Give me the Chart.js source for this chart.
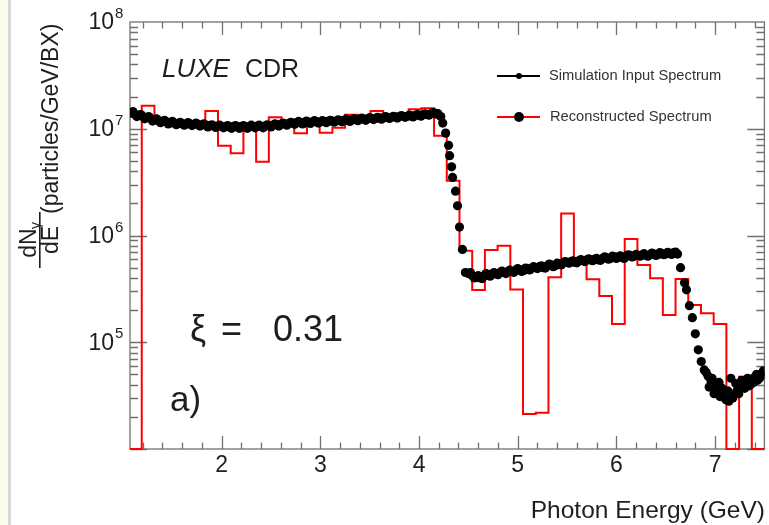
<!DOCTYPE html>
<html>
<head>
<meta charset="utf-8">
<script src="https://cdn.jsdelivr.net/npm/chart.js@4.4.0/dist/chart.umd.min.js"></script>
<style>
  html, body { margin: 0; padding: 0; background: #fff; }
  #wrap { position: relative; width: 769px; height: 525px; }
</style>
</head>
<body>
<div id="wrap"><canvas id="spectrum" width="769" height="525"></canvas></div>
<script>
// reconstructed spectrum: histogram bins (GeV), value per bin (0 = empty bin)
const binStart = 1.19;
const binWidth = 0.1288;
const recoValues = [
  1.64e7, 1.26e7, 1.16e7, 1.11e7, 1.08e7, 1.47e7, 6.93e6, 5.89e6, 1.06e7, 4.91e6,
  1.28e7, 1.11e7, 9.06e6, 1.11e7, 9.18e6, 1.02e7, 1.35e7, 1.18e7, 1.47e7, 1.23e7,
  1.29e7, 1.52e7, 1.56e7, 8.61e6, 3.26e6, 7.21e5, 3.08e5, 7.31e5, 8.02e5, 3.12e5,
  2.13e4, 2.19e4, 4.06e5, 1.61e6, 6.11e5, 3.89e5, 2.71e5, 1.48e5, 9.27e5, 5.29e5,
  3.97e5, 1.80e5, 3.92e5, 2.23e5, 1.87e5, 1.48e5, 0, 4.75e4, 0
];

// simulation input spectrum (GeV, particles/GeV/BX)
const simEnergy = [
  // plateau
  1.08, 1.10, 1.12, 1.14, 1.16, 1.18, 1.20, 1.22, 1.24, 1.26, 1.28, 1.30, 1.32, 1.34, 1.36, 1.38,
  1.40, 1.42, 1.44, 1.46, 1.48, 1.50, 1.52, 1.54, 1.56, 1.58, 1.60, 1.62, 1.64, 1.66, 1.68, 1.70,
  1.72, 1.74, 1.76, 1.78, 1.80, 1.82, 1.84, 1.86, 1.88, 1.90, 1.92, 1.94, 1.96, 1.98, 2.00, 2.02,
  2.04, 2.06, 2.08, 2.10, 2.12, 2.14, 2.16, 2.18, 2.20, 2.22, 2.24, 2.26, 2.28, 2.30, 2.32, 2.34,
  2.36, 2.38, 2.40, 2.42, 2.44, 2.46, 2.48, 2.50, 2.52, 2.54, 2.56, 2.58, 2.60, 2.62, 2.64, 2.66,
  2.68, 2.70, 2.72, 2.74, 2.76, 2.78, 2.80, 2.82, 2.84, 2.86, 2.88, 2.90, 2.92, 2.94, 2.96, 2.98,
  3.00, 3.02, 3.04, 3.06, 3.08, 3.10, 3.12, 3.14, 3.16, 3.18, 3.20, 3.22, 3.24, 3.26, 3.28, 3.30,
  3.32, 3.34, 3.36, 3.38, 3.40, 3.42, 3.44, 3.46, 3.48, 3.50, 3.52, 3.54, 3.56, 3.58, 3.60, 3.62,
  3.64, 3.66, 3.68, 3.70, 3.72, 3.74, 3.76, 3.78, 3.80, 3.82, 3.84, 3.86, 3.88, 3.90, 3.92, 3.94,
  3.96, 3.98, 4.00, 4.02, 4.04, 4.06, 4.08, 4.10, 4.12, 4.14, 4.16, 4.18, 4.19,
  // first edge
  4.22, 4.24, 4.27, 4.30, 4.31, 4.33, 4.34, 4.37, 4.39, 4.41, 4.44, 4.47,
  // second plateau
  4.50, 4.52, 4.54, 4.56, 4.58, 4.60, 4.62, 4.64, 4.66, 4.68, 4.70, 4.72, 4.74, 4.76, 4.78, 4.80,
  4.82, 4.84, 4.86, 4.88, 4.90, 4.92, 4.94, 4.96, 4.98, 5.00, 5.02, 5.04, 5.06, 5.08, 5.10, 5.12,
  5.14, 5.16, 5.18, 5.20, 5.22, 5.24, 5.26, 5.28, 5.30, 5.32, 5.34, 5.36, 5.38, 5.40, 5.42, 5.44,
  5.46, 5.48, 5.50, 5.52, 5.54, 5.56, 5.58, 5.60, 5.62, 5.64, 5.66, 5.68, 5.70, 5.72, 5.74, 5.76,
  5.78, 5.80, 5.82, 5.84, 5.86, 5.88, 5.90, 5.92, 5.94, 5.96, 5.98, 6.00, 6.02, 6.04, 6.06, 6.08,
  6.10, 6.12, 6.14, 6.16, 6.18, 6.20, 6.22, 6.24, 6.26, 6.28, 6.30, 6.32, 6.34, 6.36, 6.38, 6.40,
  6.42, 6.44, 6.46, 6.48, 6.50, 6.52, 6.54, 6.56, 6.58, 6.60, 6.62,
  // second edge and tail
  6.65, 6.69, 6.71, 6.74, 6.77, 6.80, 6.83, 6.86, 6.89, 6.91, 6.93, 6.94, 6.96, 6.97, 6.99, 7.00,
  7.02, 7.04, 7.05, 7.07, 7.08, 7.10, 7.11, 7.13, 7.14, 7.16, 7.18, 7.19, 7.21, 7.22, 7.24, 7.25,
  7.27, 7.28, 7.30, 7.31, 7.33, 7.34, 7.36, 7.37, 7.39, 7.40, 7.42, 7.43, 7.45, 7.46, 7.48, 7.49
];
const simValues = [
  // plateau
  1.40e7, 1.45e7, 1.37e7, 1.30e7, 1.34e7, 1.36e7, 1.31e7, 1.24e7, 1.27e7, 1.30e7, 1.25e7, 1.18e7, 1.22e7, 1.24e7, 1.19e7, 1.14e7,
  1.17e7, 1.20e7, 1.16e7, 1.11e7, 1.14e7, 1.17e7, 1.13e7, 1.09e7, 1.12e7, 1.15e7, 1.12e7, 1.08e7, 1.11e7, 1.14e7, 1.11e7, 1.07e7,
  1.10e7, 1.13e7, 1.10e7, 1.06e7, 1.09e7, 1.11e7, 1.08e7, 1.04e7, 1.07e7, 1.09e7, 1.06e7, 1.03e7, 1.06e7, 1.08e7, 1.05e7, 1.02e7,
  1.05e7, 1.07e7, 1.04e7, 1.01e7, 1.05e7, 1.07e7, 1.04e7, 1.01e7, 1.05e7, 1.07e7, 1.04e7, 1.01e7, 1.05e7, 1.08e7, 1.05e7, 1.02e7,
  1.06e7, 1.08e7, 1.05e7, 1.02e7, 1.06e7, 1.09e7, 1.07e7, 1.04e7, 1.08e7, 1.11e7, 1.09e7, 1.06e7, 1.10e7, 1.13e7, 1.11e7, 1.08e7,
  1.12e7, 1.15e7, 1.13e7, 1.10e7, 1.14e7, 1.17e7, 1.14e7, 1.11e7, 1.15e7, 1.18e7, 1.15e7, 1.12e7, 1.16e7, 1.19e7, 1.16e7, 1.13e7,
  1.16e7, 1.19e7, 1.17e7, 1.14e7, 1.17e7, 1.20e7, 1.18e7, 1.15e7, 1.18e7, 1.21e7, 1.19e7, 1.16e7, 1.20e7, 1.23e7, 1.20e7, 1.17e7,
  1.21e7, 1.24e7, 1.22e7, 1.19e7, 1.23e7, 1.26e7, 1.23e7, 1.20e7, 1.24e7, 1.27e7, 1.25e7, 1.22e7, 1.25e7, 1.28e7, 1.26e7, 1.23e7,
  1.27e7, 1.30e7, 1.28e7, 1.25e7, 1.28e7, 1.31e7, 1.29e7, 1.26e7, 1.30e7, 1.33e7, 1.31e7, 1.28e7, 1.31e7, 1.34e7, 1.32e7, 1.29e7,
  1.33e7, 1.36e7, 1.34e7, 1.31e7, 1.35e7, 1.38e7, 1.36e7, 1.34e7, 1.38e7, 1.42e7, 1.40e7, 1.37e7, 1.39e7,
  // first edge
  1.30e7, 1.13e7, 9.1e6, 7.0e6, 5.6e6, 4.4e6, 3.5e6, 2.6e6, 1.9e6, 1.2e6, 7.4e5, 4.5e5,
  // second plateau
  4.4e5, 4.5e5, 4.2e5, 4.0e5, 4.1e5, 4.2e5, 4.0e5, 3.95e5, 4.2e5, 4.4e5, 4.3e5, 4.15e5, 4.3e5, 4.5e5, 4.4e5, 4.3e5,
  4.5e5, 4.65e5, 4.5e5, 4.4e5, 4.6e5, 4.75e5, 4.6e5, 4.5e5, 4.7e5, 4.9e5, 4.8e5, 4.6e5, 4.7e5, 4.95e5, 4.9e5, 4.75e5,
  4.9e5, 5.1e5, 5.0e5, 4.9e5, 5.1e5, 5.2e5, 5.0e5, 4.95e5, 5.2e5, 5.4e5, 5.3e5, 5.1e5, 5.2e5, 5.5e5, 5.4e5, 5.3e5,
  5.5e5, 5.7e5, 5.6e5, 5.5e5, 5.7e5, 5.8e5, 5.6e5, 5.55e5, 5.8e5, 5.95e5, 5.8e5, 5.7e5, 5.9e5, 6.05e5, 5.9e5, 5.8e5,
  6.0e5, 6.1e5, 5.9e5, 5.85e5, 6.1e5, 6.3e5, 6.2e5, 6.0e5, 6.1e5, 6.4e5, 6.3e5, 6.1e5, 6.3e5, 6.45e5, 6.2e5, 6.1e5,
  6.4e5, 6.6e5, 6.5e5, 6.3e5, 6.4e5, 6.65e5, 6.5e5, 6.4e5, 6.6e5, 6.75e5, 6.5e5, 6.4e5, 6.6e5, 6.85e5, 6.7e5, 6.5e5,
  6.6e5, 6.9e5, 6.8e5, 6.6e5, 6.7e5, 6.95e5, 6.8e5, 6.65e5, 6.9e5, 7.0e5, 6.7e5,
  // second edge and tail
  5.0e5, 3.6e5, 3.1e5, 2.2e5, 1.7e5, 1.2e5, 8.5e4, 6.6e4, 5.5e4, 5.2e4, 4.8e4, 3.8e4, 4.3e4, 4.6e4, 3.3e4, 3.9e4,
  3.6e4, 4.2e4, 3.1e4, 3.7e4, 3.4e4, 3.3e4, 2.9e4, 3.5e4, 2.8e4, 4.6e4, 3.0e4, 3.2e4, 4.1e4, 3.5e4, 3.3e4, 3.8e4,
  4.4e4, 4.0e4, 3.7e4, 4.3e4, 4.6e4, 3.9e4, 4.0e4, 4.5e4, 4.2e4, 4.7e4, 5.0e4, 4.4e4, 4.6e4, 5.0e4, 4.9e4, 5.4e4
];

const xMin = 1.071, xMax = 7.5;
const yMin = 1e4, yMax = 1e8;
const xTickLabels = [2, 3, 4, 5, 6, 7];
const yTickExponents = [5, 6, 7, 8];

const FONT = '"Liberation Sans", Arial, Helvetica, sans-serif';
const TEXT = '#1e1e1e';
const RED = '#ff0000';

// step points for the histogram (empty bins sit on the lower axis)
const recoPoints = [{ x: xMin, y: yMin }];
recoValues.forEach((v, i) => recoPoints.push({ x: binStart + i * binWidth, y: v > 0 ? v : yMin }));
recoPoints.push({ x: xMax, y: recoValues[recoValues.length - 1] > 0 ? recoValues[recoValues.length - 1] : yMin });

const simPoints = simEnergy.map((e, i) => ({ x: e, y: simValues[i] }));

const decor = {
  id: 'decor',
  beforeDraw(chart) {
    const ctx = chart.ctx;
    ctx.save();
    ctx.fillStyle = '#fbfbe9';
    ctx.fillRect(0, 0, 8, 525);
    ctx.fillStyle = '#d6d6d6';
    ctx.fillRect(8, 0, 3, 525);
    ctx.restore();
  },
  beforeDatasetsDraw(chart) {
    const { ctx, chartArea: a, scales } = chart;
    const xs = scales.x, ys = scales.y;
    ctx.save();
    ctx.strokeStyle = '#707070';
    ctx.lineWidth = 1.3;
    ctx.strokeRect(a.left, a.top, a.right - a.left, a.bottom - a.top);
    ctx.beginPath();
    // x ticks (bottom and top, inward)
    for (let k = 6; k <= 37; k++) {
      const v = k * 0.2;
      if (v < xMin || v > xMax) continue;
      const px = Math.round(xs.getPixelForValue(v)) + 0.5;
      const major = Math.abs(v - Math.round(v)) < 1e-6;
      const len = major ? 13 : 6.5;
      ctx.moveTo(px, a.bottom); ctx.lineTo(px, a.bottom - len);
      ctx.moveTo(px, a.top); ctx.lineTo(px, a.top + len);
    }
    // y ticks (left and right, inward)
    for (let d = 4; d <= 7; d++) {
      for (let m = 1; m <= 9; m++) {
        const v = m * Math.pow(10, d);
        if (v < yMin || v > yMax) continue;
        const py = Math.round(ys.getPixelForValue(v)) + 0.5;
        const len = m === 1 ? 17 : 8;
        ctx.moveTo(a.left, py); ctx.lineTo(a.left + len, py);
        ctx.moveTo(a.right, py); ctx.lineTo(a.right - len, py);
      }
    }
    ctx.stroke();
    ctx.restore();
  },
  afterDraw(chart) {
    const { ctx, chartArea: a, scales } = chart;
    const xs = scales.x, ys = scales.y;
    ctx.save();
    ctx.fillStyle = TEXT;
    ctx.textBaseline = 'middle';

    // x tick labels
    ctx.font = '23px ' + FONT;
    ctx.textAlign = 'center';
    xTickLabels.forEach(v => ctx.fillText(String(v), xs.getPixelForValue(v), a.bottom + 17));

    // y tick labels 10^n
    yTickExponents.forEach(n => {
      const py = ys.getPixelForValue(Math.pow(10, n));
      ctx.font = '23px ' + FONT;
      ctx.textAlign = 'right';
      ctx.fillText('10', 114, py + 1);
      ctx.font = '15px ' + FONT;
      ctx.textAlign = 'left';
      ctx.fillText(String(n), 115, py - 8);
    });

    // x axis title
    ctx.font = '24.5px ' + FONT;
    ctx.textAlign = 'right';
    ctx.fillText('Photon Energy (GeV)', 765, 511);

    // y axis title (rotated)
    ctx.save();
    ctx.translate(58, 214);
    ctx.rotate(-Math.PI / 2);
    ctx.textBaseline = 'alphabetic';
    ctx.textAlign = 'left';
    ctx.font = '23px ' + FONT;
    ctx.fillText('(particles/GeV/BX)', 0, 0);
    ctx.restore();

    ctx.save();
    ctx.translate(58, 240);
    ctx.rotate(-Math.PI / 2);
    ctx.textBaseline = 'alphabetic';
    ctx.textAlign = 'center';
    ctx.font = '23px ' + FONT;
    ctx.fillText('dE', 0, 0);
    ctx.fillText('dN', -3, -22);
    ctx.font = '14px ' + FONT;
    ctx.textAlign = 'left';
    ctx.fillText('γ', 11, -18);
    ctx.fillRect(-28, -19, 56, 1.6);
    ctx.restore();

    // LUXE CDR
    ctx.textAlign = 'left';
    ctx.font = 'italic 26px ' + FONT;
    ctx.fillText('LUXE', 162, 70);
    ctx.font = '25px ' + FONT;
    ctx.fillText('CDR', 245, 70);

    // xi and panel label
    ctx.font = '36px ' + FONT;
    ctx.fillText('ξ', 190, 331);
    ctx.fillText('=', 221, 331);
    ctx.fillText('0.31', 273, 331);
    ctx.font = '35px ' + FONT;
    ctx.fillText('a)', 170, 401);

    // legend
    ctx.lineWidth = 2;
    ctx.strokeStyle = '#000';
    ctx.beginPath(); ctx.moveTo(497, 76); ctx.lineTo(540, 76); ctx.stroke();
    ctx.beginPath(); ctx.arc(519, 76, 3, 0, Math.PI * 2); ctx.fillStyle = '#000'; ctx.fill();
    ctx.strokeStyle = RED;
    ctx.beginPath(); ctx.moveTo(497, 117); ctx.lineTo(540, 117); ctx.stroke();
    ctx.beginPath(); ctx.arc(519, 117, 5, 0, Math.PI * 2); ctx.fillStyle = '#000'; ctx.fill();
    ctx.fillStyle = '#333';
    ctx.font = '14.7px ' + FONT;
    ctx.fillText('Simulation Input Spectrum', 549, 76);
    ctx.fillText('Reconstructed Spectrum', 550, 117);
    ctx.restore();
  }
};

new Chart(document.getElementById('spectrum').getContext('2d'), {
  type: 'scatter',
  data: {
    datasets: [
      {
        label: 'Simulation Input Spectrum',
        data: simPoints,
        showLine: false,
        pointRadius: 4.6,
        pointBackgroundColor: '#000',
        pointBorderWidth: 0,
        order: 0
      },
      {
        label: 'Reconstructed Spectrum',
        type: 'line',
        data: recoPoints,
        stepped: 'before',
        borderColor: RED,
        borderWidth: 2,
        pointRadius: 0,
        fill: false,
        clip: 3,
        order: 1
      }
    ]
  },
  options: {
    responsive: false,
    animation: false,
    devicePixelRatio: 1,
    layout: { padding: { left: 130, right: 3, top: 22, bottom: 76 } },
    plugins: { legend: { display: false }, tooltip: { enabled: false } },
    scales: {
      x: { type: 'linear', min: xMin, max: xMax, display: false },
      y: { type: 'logarithmic', min: yMin, max: yMax, display: false }
    }
  },
  plugins: [decor]
});
</script>
</body>
</html>
